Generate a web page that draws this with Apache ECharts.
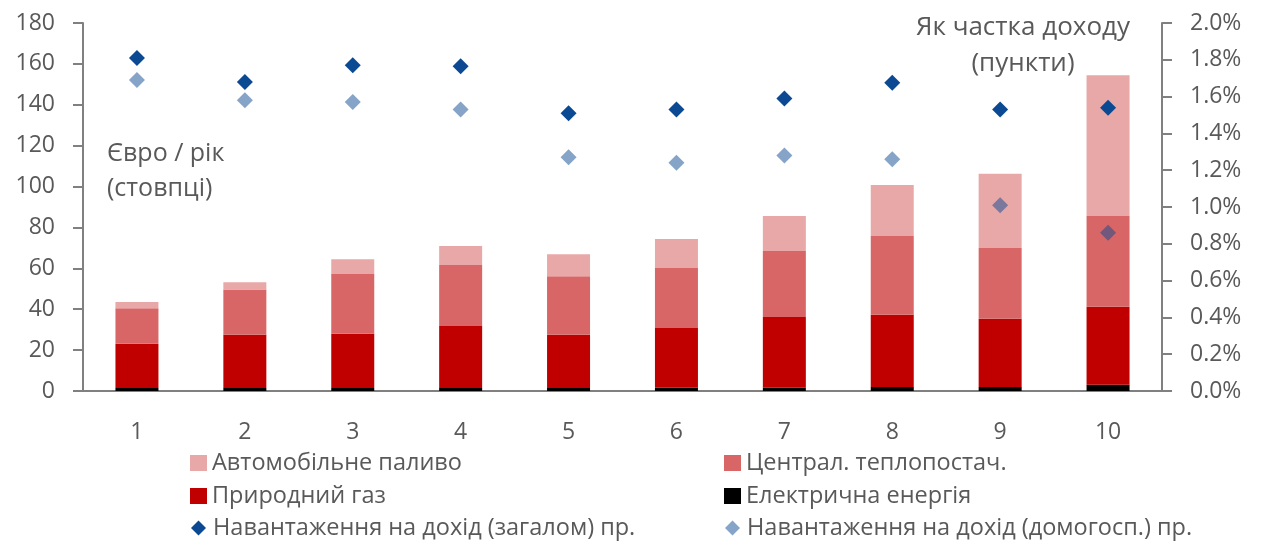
<!DOCTYPE html>
<html>
<head>
<meta charset="utf-8">
<script src="https://cdn.jsdelivr.net/npm/echarts@6/dist/echarts.min.js"></script>
<style>
  html, body { margin: 0; padding: 0; background: #fff; }
  #chart { width: 1268px; height: 544px; }
</style>
</head>
<body>
<div id="chart"></div>
<script>
// Decile groups (household income deciles)
const categories = ['1', '2', '3', '4', '5', '6', '7', '8', '9', '10'];

// Annual cost components, euro per year (stacked bars)
const electricity = [1.5, 1.5, 1.5, 1.5, 1.5, 1.7, 1.7, 2.0, 2.0, 3.0];
const naturalGas  = [21.6, 26.0, 26.5, 30.3, 26.0, 29.1, 34.5, 35.3, 33.4, 38.2];
const districtHeat = [17.4, 22.2, 29.2, 29.8, 28.6, 29.4, 32.3, 38.5, 34.6, 44.4];
const motorFuel   = [3.0, 3.5, 7.2, 9.3, 10.8, 14.2, 17.1, 25.0, 36.3, 68.8];

// Burden as a share of income, percentage points (right axis)
const burdenTotal     = [1.81, 1.68, 1.77, 1.765, 1.51, 1.53, 1.59, 1.675, 1.53, 1.54];
const burdenHousehold = [1.69, 1.58, 1.57, 1.53, 1.27, 1.24, 1.28, 1.26, 1.01, 0.86];

// Axis ranges
const leftAxis  = { min: 0, max: 180, step: 20 };
const rightAxis = { min: 0, max: 2.0, step: 0.2 };

const names = {
  fuel: 'Автомобільне паливо',
  heat: 'Централ. теплопостач.',
  gas: 'Природний газ',
  elec: 'Електрична енергія',
  total: 'Навантаження на дохід (загалом) пр.',
  house: 'Навантаження на дохід (домогосп.) пр.'
};

const gray = '#808080';
const labelColor = '#595959';
const tickFont = '"Open Sans", "DejaVu Sans", sans-serif';
const blue = '#0b4a92';

const chart = echarts.init(document.getElementById('chart'), null, { renderer: 'canvas' });

const barCommon = { type: 'bar', stack: 'cost', barWidth: 43, yAxisIndex: 0 };

// One legend block per entry, laid out as two columns of three rows
const legendText = { color: '#595959', fontSize: 23.5, fontFamily: '"Open Sans", sans-serif' };
function legendEntry(name, icon, x, rowCenter) {
  const isDiamond = icon === 'diamond';
  return {
    left: x - 5, top: rowCenter - 20,
    itemWidth: isDiamond ? 15 : 17, itemHeight: isDiamond ? 15 : 16, itemGap: 0,
    textStyle: Object.assign({ padding: [0, 0, 0, isDiamond ? 2 : 0] }, legendText, { lineHeight: 30 }),
    data: [{ name: name, icon: icon }]
  };
}

chart.setOption({
  animation: false,
  backgroundColor: '#ffffff',
  grid: { left: 83, right: 106, top: 23, bottom: 153 },
  xAxis: {
    type: 'category',
    data: categories,
    axisLine: { lineStyle: { color: gray, width: 2 } },
    axisTick: { show: false },
    axisLabel: { color: labelColor, fontSize: 23, fontFamily: tickFont, margin: 30 }
  },
  yAxis: [
    {
      type: 'value',
      min: leftAxis.min, max: leftAxis.max, interval: leftAxis.step,
      axisLine: { show: true, lineStyle: { color: gray, width: 2 } },
      axisTick: { show: true, length: 10, lineStyle: { color: gray, width: 2 } },
      axisLabel: { color: labelColor, fontSize: 23, fontFamily: tickFont, margin: 28 },
      splitLine: { show: false }
    },
    {
      type: 'value',
      position: 'right',
      min: rightAxis.min, max: rightAxis.max, interval: rightAxis.step,
      axisLine: { show: true, lineStyle: { color: gray, width: 2 } },
      axisTick: { show: true, length: 10, lineStyle: { color: gray, width: 2 } },
      axisLabel: {
        color: labelColor, fontSize: 23, fontFamily: tickFont, margin: 28,
        formatter: v => v.toFixed(1) + '%'
      },
      splitLine: { show: false }
    }
  ],
  legend: [
    legendEntry(names.fuel, 'rect', 190, 463),
    legendEntry(names.gas, 'rect', 190, 496),
    legendEntry(names.total, 'diamond', 191, 528),
    legendEntry(names.heat, 'rect', 724, 463),
    legendEntry(names.elec, 'rect', 724, 496),
    legendEntry(names.house, 'diamond', 725, 528)
  ],
  graphic: [
    {
      type: 'text', left: 107, top: 136,
      style: { text: 'Євро / рік\n(стовпці)', fill: labelColor, font: '25px "Open Sans", sans-serif', lineHeight: 35 }
    },
    {
      type: 'text', x: 1023, y: 28,
      style: { text: 'Як частка доходу', fill: labelColor, font: '26px "Open Sans", sans-serif', align: 'center', verticalAlign: 'middle' }
    },
    {
      type: 'text', x: 1023, y: 64,
      style: { text: '(пункти)', fill: labelColor, font: '26px "Open Sans", sans-serif', align: 'center', verticalAlign: 'middle' }
    }
  ],
  series: [
    Object.assign({}, barCommon, { name: names.elec, data: electricity, itemStyle: { color: '#000000' } }),
    Object.assign({}, barCommon, { name: names.gas, data: naturalGas, itemStyle: { color: '#c00000' } }),
    Object.assign({}, barCommon, { name: names.heat, data: districtHeat, itemStyle: { color: '#d86666' } }),
    Object.assign({}, barCommon, { name: names.fuel, data: motorFuel, itemStyle: { color: '#e8a8a8' } }),
    {
      type: 'scatter', name: names.total, yAxisIndex: 1,
      data: burdenTotal, symbol: 'diamond', symbolSize: 16,
      itemStyle: { color: blue, opacity: 1 }, z: 5
    },
    {
      type: 'scatter', name: names.house, yAxisIndex: 1,
      data: burdenHousehold, symbol: 'diamond', symbolSize: 16,
      itemStyle: { color: blue, opacity: 0.5 }, z: 5
    }
  ]
});
</script>
</body>
</html>
